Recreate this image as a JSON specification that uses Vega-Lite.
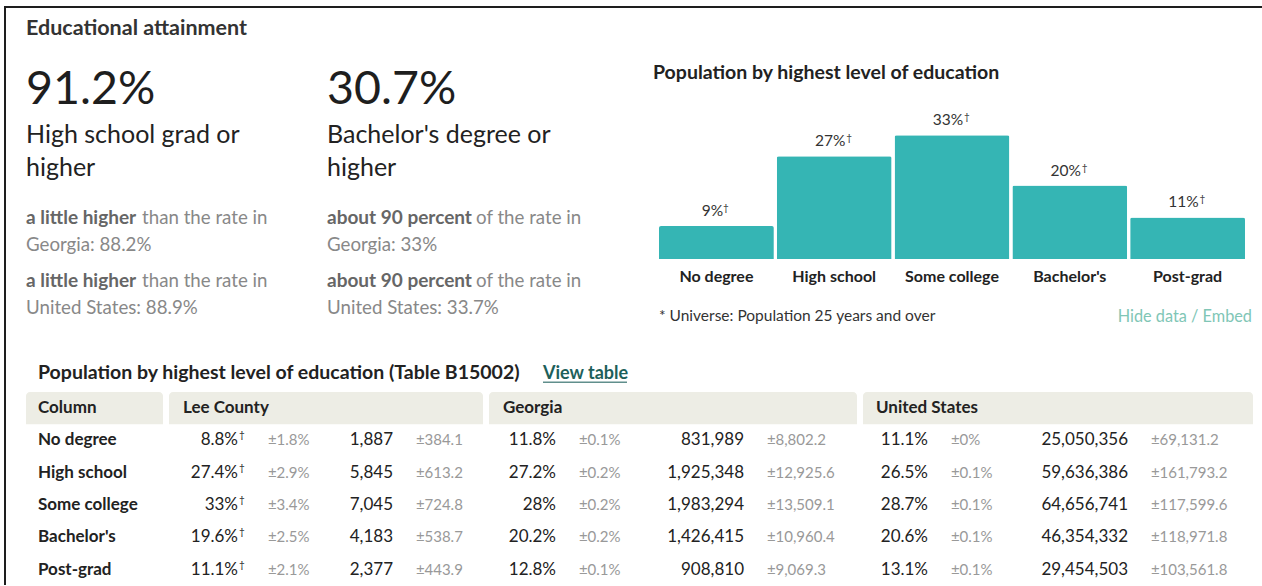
{
  "$schema": "https://vega.github.io/schema/vega-lite/v6.json",
  "background": "white",
  "padding": {"left": 4, "top": 6, "right": 0, "bottom": 0},
  "config": {"font": "Lato", "view": {"stroke": null}},
  "datasets": {
    "stats": [
      {"block": "hs", "value": 0.912, "label": "High school grad or\nhigher", "cmp_state": "a little higher", "cmp_us": "a little higher", "rest": "than the rate in", "state_line": "Georgia: 88.2%", "us_line": "United States: 88.9%"},
      {"block": "ba", "value": 0.307, "label": "Bachelor's degree or\nhigher", "cmp_state": "about 90 percent", "cmp_us": "about 90 percent", "rest": "of the rate in", "state_line": "Georgia: 33%", "us_line": "United States: 33.7%"}
    ],
    "headers": [{"geo": "Column"}, {"geo": "Lee County"}, {"geo": "Georgia"}, {"geo": "United States"}],
    "tabletitle": [{"item": "title", "text": "Population by highest level of education (Table B15002)"}, {"item": "link", "text": "View table"}],
    "notes": [
      {"side": "left", "text": "* Universe: Population 25 years and over"},
      {"side": "right", "text": "Hide data / Embed"}
    ],
    "table": [
      {"geo": "Lee County", "level": "No degree", "measure": "pct", "value": 0.088, "moe": 0.018, "flag": true},
      {"geo": "Lee County", "level": "No degree", "measure": "count", "value": 1887, "moe": 384.1, "flag": false},
      {"geo": "Lee County", "level": "High school", "measure": "pct", "value": 0.274, "moe": 0.029, "flag": true},
      {"geo": "Lee County", "level": "High school", "measure": "count", "value": 5845, "moe": 613.2, "flag": false},
      {"geo": "Lee County", "level": "Some college", "measure": "pct", "value": 0.33, "moe": 0.034, "flag": true},
      {"geo": "Lee County", "level": "Some college", "measure": "count", "value": 7045, "moe": 724.8, "flag": false},
      {"geo": "Lee County", "level": "Bachelor's", "measure": "pct", "value": 0.196, "moe": 0.025, "flag": true},
      {"geo": "Lee County", "level": "Bachelor's", "measure": "count", "value": 4183, "moe": 538.7, "flag": false},
      {"geo": "Lee County", "level": "Post-grad", "measure": "pct", "value": 0.111, "moe": 0.021, "flag": true},
      {"geo": "Lee County", "level": "Post-grad", "measure": "count", "value": 2377, "moe": 443.9, "flag": false},
      {"geo": "Georgia", "level": "No degree", "measure": "pct", "value": 0.118, "moe": 0.001, "flag": false},
      {"geo": "Georgia", "level": "No degree", "measure": "count", "value": 831989, "moe": 8802.2, "flag": false},
      {"geo": "Georgia", "level": "High school", "measure": "pct", "value": 0.272, "moe": 0.002, "flag": false},
      {"geo": "Georgia", "level": "High school", "measure": "count", "value": 1925348, "moe": 12925.6, "flag": false},
      {"geo": "Georgia", "level": "Some college", "measure": "pct", "value": 0.28, "moe": 0.002, "flag": false},
      {"geo": "Georgia", "level": "Some college", "measure": "count", "value": 1983294, "moe": 13509.1, "flag": false},
      {"geo": "Georgia", "level": "Bachelor's", "measure": "pct", "value": 0.202, "moe": 0.002, "flag": false},
      {"geo": "Georgia", "level": "Bachelor's", "measure": "count", "value": 1426415, "moe": 10960.4, "flag": false},
      {"geo": "Georgia", "level": "Post-grad", "measure": "pct", "value": 0.128, "moe": 0.001, "flag": false},
      {"geo": "Georgia", "level": "Post-grad", "measure": "count", "value": 908810, "moe": 9069.3, "flag": false},
      {"geo": "United States", "level": "No degree", "measure": "pct", "value": 0.111, "moe": 0, "flag": false},
      {"geo": "United States", "level": "No degree", "measure": "count", "value": 25050356, "moe": 69131.2, "flag": false},
      {"geo": "United States", "level": "High school", "measure": "pct", "value": 0.265, "moe": 0.001, "flag": false},
      {"geo": "United States", "level": "High school", "measure": "count", "value": 59636386, "moe": 161793.2, "flag": false},
      {"geo": "United States", "level": "Some college", "measure": "pct", "value": 0.287, "moe": 0.001, "flag": false},
      {"geo": "United States", "level": "Some college", "measure": "count", "value": 64656741, "moe": 117599.6, "flag": false},
      {"geo": "United States", "level": "Bachelor's", "measure": "pct", "value": 0.206, "moe": 0.001, "flag": false},
      {"geo": "United States", "level": "Bachelor's", "measure": "count", "value": 46354332, "moe": 118971.8, "flag": false},
      {"geo": "United States", "level": "Post-grad", "measure": "pct", "value": 0.131, "moe": 0.001, "flag": false},
      {"geo": "United States", "level": "Post-grad", "measure": "count", "value": 29454503, "moe": 103561.8, "flag": false}
    ]
  },
  "spacing": 0,
  "bounds": "flush",
  "vconcat": [
    {"width": 1258, "height": 2, "data": {"values": [{"edge": "top"}]}, "mark": {"type": "rect", "color": "#1e1e1e"}, "encoding": {}},
    {"spacing": 20, "bounds": "flush", "hconcat": [
      {"width": 2, "height": 577, "data": {"values": [{"edge": "left"}]}, "mark": {"type": "rect", "color": "#1e1e1e"}, "encoding": {}},
      {"spacing": 14.7, "bounds": "full", "vconcat": [
        {"spacing": 0, "bounds": "flush", "vconcat": [
          {"width": 600, "height": 54, "data": {"values": [{"title": "Educational attainment"}]},
           "mark": {"type": "text", "align": "left", "baseline": "alphabetic", "fontSize": 21.5, "fontWeight": "bold", "color": "#333333"},
           "encoding": {"x": {"field": "title", "type": "nominal", "scale": {"range": [0, 0]}, "axis": null}, "text": {"field": "title"}}},
          {"spacing": 332, "bounds": "flush", "hconcat": [
            {"width": 301, "height": 256, "data": {"name": "stats"},
             "encoding": {"x": {"field": "block", "type": "nominal", "scale": {"domain": ["hs", "ba"], "padding": 0}, "axis": null}},
             "layer": [
               {"mark": {"type": "text", "align": "left", "baseline": "alphabetic", "fontSize": 46.5, "color": "#1e1e1e", "dy": -86}, "encoding": {"text": {"field": "value", "format": ".1%"}}},
               {"mark": {"type": "text", "align": "left", "baseline": "alphabetic", "fontSize": 25, "color": "#222222", "dy": -47, "lineBreak": "\n", "lineHeight": 33}, "encoding": {"text": {"field": "label"}}},
               {"mark": {"type": "text", "align": "left", "baseline": "alphabetic", "fontSize": 19, "fontWeight": "bold", "color": "#666666", "dy": 34}, "encoding": {"text": {"field": "cmp_state"}}},
               {"transform": [{"filter": "datum.block == 'hs'"}], "mark": {"type": "text", "align": "left", "baseline": "alphabetic", "fontSize": 18.7, "color": "#888888", "dx": 116, "dy": 34}, "encoding": {"text": {"field": "rest"}}},
               {"transform": [{"filter": "datum.block == 'ba'"}], "mark": {"type": "text", "align": "left", "baseline": "alphabetic", "fontSize": 18.7, "color": "#888888", "dx": 149, "dy": 34}, "encoding": {"text": {"field": "rest"}}},
               {"mark": {"type": "text", "align": "left", "baseline": "alphabetic", "fontSize": 18.7, "color": "#888888", "dy": 61}, "encoding": {"text": {"field": "state_line"}}},
               {"mark": {"type": "text", "align": "left", "baseline": "alphabetic", "fontSize": 19, "fontWeight": "bold", "color": "#666666", "dy": 97}, "encoding": {"text": {"field": "cmp_us"}}},
               {"transform": [{"filter": "datum.block == 'hs'"}], "mark": {"type": "text", "align": "left", "baseline": "alphabetic", "fontSize": 18.7, "color": "#888888", "dx": 116, "dy": 97}, "encoding": {"text": {"field": "rest"}}},
               {"transform": [{"filter": "datum.block == 'ba'"}], "mark": {"type": "text", "align": "left", "baseline": "alphabetic", "fontSize": 18.7, "color": "#888888", "dx": 149, "dy": 97}, "encoding": {"text": {"field": "rest"}}},
               {"mark": {"type": "text", "align": "left", "baseline": "alphabetic", "fontSize": 18.7, "color": "#888888", "dy": 124}, "encoding": {"text": {"field": "us_line"}}}
             ]},
            {"spacing": 13, "bounds": "flush", "vconcat": [
              {"width": 586, "height": 34, "data": {"values": [{"title": "Population by highest level of education"}]},
               "mark": {"type": "text", "align": "left", "baseline": "alphabetic", "fontSize": 19.5, "fontWeight": "bold", "color": "#222222"},
               "encoding": {"x": {"field": "title", "type": "nominal", "scale": {"range": [-6, -6]}, "axis": null}, "text": {"field": "title"}}},
              {"width": 586, "height": 150, "data": {"name": "table"},
               "transform": [{"filter": "datum.geo == 'Lee County' && datum.measure == 'pct'"}],
               "encoding": {
                 "x": {"field": "level", "type": "nominal", "sort": ["No degree", "High school", "Some college", "Bachelor's", "Post-grad"], "scale": {"paddingInner": 0.025, "paddingOuter": 0},
                       "axis": {"title": null, "domain": false, "ticks": false, "tickSize": 0, "labelPadding": 9, "labelFontSize": 16, "labelFontWeight": "bold", "labelColor": "#222222", "labelAngle": 0, "labelFont": "Lato"}},
                 "y": {"field": "value", "type": "quantitative", "scale": {"domain": [0, 0.4], "nice": false}, "axis": null}
               },
               "layer": [
                 {"mark": {"type": "bar", "color": "#35b5b4", "cornerRadiusTopLeft": 2, "cornerRadiusTopRight": 2}},
                 {"mark": {"type": "text", "align": "center", "baseline": "alphabetic", "dx": -4, "dy": -10, "fontSize": 15.5, "color": "#333333"}, "encoding": {"text": {"field": "value", "format": ".0%"}}},
                 {"transform": [{"filter": "datum.value < 0.095"}], "mark": {"type": "text", "align": "left", "baseline": "alphabetic", "dx": 6.5, "dy": -15, "fontSize": 10, "color": "#333333"}, "encoding": {"text": {"value": "†"}}},
                 {"transform": [{"filter": "datum.value >= 0.095"}], "mark": {"type": "text", "align": "left", "baseline": "alphabetic", "dx": 12, "dy": -15, "fontSize": 10, "color": "#333333"}, "encoding": {"text": {"value": "†"}}}
               ]},
              {"width": 586, "height": 73, "data": {"name": "notes"},
               "encoding": {"x": {"field": "side", "type": "nominal", "scale": {"domain": ["left", "right"], "range": [0, 593], "padding": 0}, "axis": null}, "text": {"field": "text"}},
               "layer": [
                 {"transform": [{"filter": "datum.side == 'left'"}], "mark": {"type": "text", "align": "left", "baseline": "top", "fontSize": 15.5, "color": "#333333"}},
                 {"transform": [{"filter": "datum.side == 'right'"}], "mark": {"type": "text", "align": "right", "baseline": "top", "fontSize": 16.3, "color": "#80c6b6"}}
               ]}
            ]}
          ]}
        ]},
        {"spacing": 6, "bounds": "flush", "hconcat": [
          {"width": 137, "height": 226.1,
           "layer": [
             {"data": {"name": "headers"}, "transform": [{"filter": "datum.geo == 'Column'"}], "mark": {"type": "rect", "color": "#ededE5", "cornerRadiusTopLeft": 4, "cornerRadiusTopRight": 4},
              "encoding": {"y": {"datum": "header", "type": "nominal", "scale": {"domain": ["title", "header", "No degree", "High school", "Some college", "Bachelor's", "Post-grad"], "paddingInner": 0, "paddingOuter": 0}, "axis": null}}},
             {"data": {"name": "tabletitle"}, "transform": [{"filter": "datum.item == 'title'"}], "mark": {"type": "text", "align": "left", "baseline": "alphabetic", "fontSize": 19.5, "fontWeight": "bold", "color": "#222222", "dy": 3},
              "encoding": {"x": {"datum": "label", "type": "nominal", "scale": {"range": [12, 12]}, "axis": null}, "y": {"datum": "title", "type": "nominal", "axis": null}, "text": {"field": "text"}}},
             {"data": {"name": "headers"}, "transform": [{"filter": "datum.geo == 'Column'"}], "mark": {"type": "text", "align": "left", "baseline": "middle", "fontSize": 17, "fontWeight": "bold", "color": "#222222"},
              "encoding": {"x": {"datum": "label", "type": "nominal", "axis": null}, "y": {"datum": "header", "type": "nominal", "axis": null}, "text": {"field": "geo"}}},
             {"data": {"name": "table"}, "transform": [{"filter": "datum.geo == 'Lee County' && datum.measure == 'pct'"}], "mark": {"type": "text", "align": "left", "baseline": "middle", "fontSize": 17, "fontWeight": "bold", "color": "#222222"},
              "encoding": {"x": {"datum": "label", "type": "nominal", "axis": null}, "y": {"field": "level", "type": "nominal", "axis": null}, "text": {"field": "level"}}}
           ]},
          {"width": 314, "height": 226.1, "data": {"name": "table"},
           "resolve": {"scale": {"x": "independent"}},
           "layer": [
             {"data": {"name": "headers"}, "transform": [{"filter": "datum.geo == 'Lee County'"}], "mark": {"type": "rect", "color": "#ededE5", "cornerRadiusTopLeft": 4, "cornerRadiusTopRight": 4},
              "encoding": {"y": {"datum": "header", "type": "nominal", "scale": {"domain": ["title", "header", "No degree", "High school", "Some college", "Bachelor's", "Post-grad"], "paddingInner": 0, "paddingOuter": 0}, "axis": null}}},
             {"data": {"name": "headers"}, "transform": [{"filter": "datum.geo == 'Lee County'"}], "mark": {"type": "text", "align": "left", "baseline": "middle", "fontSize": 17, "fontWeight": "bold", "color": "#222222"},
              "encoding": {"x": {"datum": "head", "type": "nominal", "scale": {"range": [14, 14]}, "axis": null}, "y": {"datum": "header", "type": "nominal", "axis": null}, "text": {"field": "geo"}}},
             {"transform": [{"filter": "datum.geo == 'Lee County' && datum.measure == 'pct' && datum.flag"}], "mark": {"type": "text", "align": "right", "baseline": "middle", "fontSize": 17, "color": "#222222", "dx": -30},
              "encoding": {"x": {"field": "measure", "type": "nominal", "scale": {"domain": ["pct", "count"], "range": [99, 247], "padding": 0}, "axis": null}, "y": {"field": "level", "type": "nominal", "axis": null}, "text": {"field": "value", "format": ".1~%"}}},
             {"transform": [{"filter": "datum.geo == 'Lee County' && datum.flag"}], "mark": {"type": "text", "align": "left", "baseline": "middle", "fontSize": 10, "color": "#222222", "dx": -29, "dy": -5},
              "encoding": {"x": {"field": "measure", "type": "nominal", "scale": {"domain": ["pct", "count"], "range": [99, 247], "padding": 0}, "axis": null}, "y": {"field": "level", "type": "nominal", "axis": null}, "text": {"value": "†"}}},
             {"transform": [{"filter": "datum.geo == 'Lee County' && datum.measure == 'count'"}], "mark": {"type": "text", "align": "right", "baseline": "middle", "fontSize": 17, "color": "#222222", "dx": -23},
              "encoding": {"x": {"field": "measure", "type": "nominal", "scale": {"domain": ["pct", "count"], "range": [99, 247], "padding": 0}, "axis": null}, "y": {"field": "level", "type": "nominal", "axis": null}, "text": {"field": "value", "format": ","}}},
             {"transform": [{"filter": "datum.geo == 'Lee County'"}], "mark": {"type": "text", "align": "left", "baseline": "middle", "fontSize": 15, "color": "#999999"},
              "encoding": {"x": {"field": "measure", "type": "nominal", "scale": {"domain": ["pct", "count"], "range": [99, 247], "padding": 0}, "axis": null}, "y": {"field": "level", "type": "nominal", "axis": null}, "text": {"value": "±"}}},
             {"transform": [{"filter": "datum.geo == 'Lee County' && datum.measure == 'pct'"}], "mark": {"type": "text", "align": "left", "baseline": "middle", "fontSize": 15, "color": "#999999", "dx": 8.5},
              "encoding": {"x": {"field": "measure", "type": "nominal", "scale": {"domain": ["pct", "count"], "range": [99, 247], "padding": 0}, "axis": null}, "y": {"field": "level", "type": "nominal", "axis": null}, "text": {"field": "moe", "format": ".1~%"}}},
             {"transform": [{"filter": "datum.geo == 'Lee County' && datum.measure == 'count'"}], "mark": {"type": "text", "align": "left", "baseline": "middle", "fontSize": 15, "color": "#999999", "dx": 8.5},
              "encoding": {"x": {"field": "measure", "type": "nominal", "scale": {"domain": ["pct", "count"], "range": [99, 247], "padding": 0}, "axis": null}, "y": {"field": "level", "type": "nominal", "axis": null}, "text": {"field": "moe", "format": ",.1f"}}}
           ]},
          {"width": 368, "height": 226.1, "data": {"name": "table"},
           "resolve": {"scale": {"x": "independent"}},
           "layer": [
             {"data": {"name": "headers"}, "transform": [{"filter": "datum.geo == 'Georgia'"}], "mark": {"type": "rect", "color": "#ededE5", "cornerRadiusTopLeft": 4, "cornerRadiusTopRight": 4},
              "encoding": {"y": {"datum": "header", "type": "nominal", "scale": {"domain": ["title", "header", "No degree", "High school", "Some college", "Bachelor's", "Post-grad"], "paddingInner": 0, "paddingOuter": 0}, "axis": null}}},
             {"data": {"name": "tabletitle"}, "transform": [{"filter": "datum.item == 'link'"}], "mark": {"type": "text", "align": "left", "baseline": "alphabetic", "fontSize": 18, "fontWeight": "bold", "color": "#1d5f5b", "dy": 3},
              "encoding": {"x": {"datum": "link", "type": "nominal", "scale": {"range": [54, 54]}, "axis": null}, "y": {"datum": "title", "type": "nominal", "axis": null}, "text": {"field": "text"}}},
             {"data": {"name": "tabletitle"}, "transform": [{"filter": "datum.item == 'link'"}], "mark": {"type": "tick", "orient": "horizontal", "color": "#1d5f5b", "thickness": 1.5},
              "encoding": {"x": {"datum": "underline", "type": "nominal", "scale": {"range": [96, 96]}, "axis": null}, "y": {"datum": "title", "type": "nominal", "bandPosition": 0.7, "axis": null}, "size": {"value": 84}}},
             {"data": {"name": "headers"}, "transform": [{"filter": "datum.geo == 'Georgia'"}], "mark": {"type": "text", "align": "left", "baseline": "middle", "fontSize": 17, "fontWeight": "bold", "color": "#222222"},
              "encoding": {"x": {"datum": "head", "type": "nominal", "scale": {"range": [14, 14]}, "axis": null}, "y": {"datum": "header", "type": "nominal", "axis": null}, "text": {"field": "geo"}}},
             {"transform": [{"filter": "datum.geo == 'Georgia' && datum.measure == 'pct'"}], "mark": {"type": "text", "align": "right", "baseline": "middle", "fontSize": 17, "color": "#222222", "dx": -23},
              "encoding": {"x": {"field": "measure", "type": "nominal", "scale": {"domain": ["pct", "count"], "range": [90, 278], "padding": 0}, "axis": null}, "y": {"field": "level", "type": "nominal", "axis": null}, "text": {"field": "value", "format": ".1~%"}}},
             {"transform": [{"filter": "datum.geo == 'Georgia' && datum.measure == 'count'"}], "mark": {"type": "text", "align": "right", "baseline": "middle", "fontSize": 17, "color": "#222222", "dx": -23},
              "encoding": {"x": {"field": "measure", "type": "nominal", "scale": {"domain": ["pct", "count"], "range": [90, 278], "padding": 0}, "axis": null}, "y": {"field": "level", "type": "nominal", "axis": null}, "text": {"field": "value", "format": ","}}},
             {"transform": [{"filter": "datum.geo == 'Georgia'"}], "mark": {"type": "text", "align": "left", "baseline": "middle", "fontSize": 15, "color": "#999999"},
              "encoding": {"x": {"field": "measure", "type": "nominal", "scale": {"domain": ["pct", "count"], "range": [90, 278], "padding": 0}, "axis": null}, "y": {"field": "level", "type": "nominal", "axis": null}, "text": {"value": "±"}}},
             {"transform": [{"filter": "datum.geo == 'Georgia' && datum.measure == 'pct'"}], "mark": {"type": "text", "align": "left", "baseline": "middle", "fontSize": 15, "color": "#999999", "dx": 8.5},
              "encoding": {"x": {"field": "measure", "type": "nominal", "scale": {"domain": ["pct", "count"], "range": [90, 278], "padding": 0}, "axis": null}, "y": {"field": "level", "type": "nominal", "axis": null}, "text": {"field": "moe", "format": ".1~%"}}},
             {"transform": [{"filter": "datum.geo == 'Georgia' && datum.measure == 'count'"}], "mark": {"type": "text", "align": "left", "baseline": "middle", "fontSize": 15, "color": "#999999", "dx": 8.5},
              "encoding": {"x": {"field": "measure", "type": "nominal", "scale": {"domain": ["pct", "count"], "range": [90, 278], "padding": 0}, "axis": null}, "y": {"field": "level", "type": "nominal", "axis": null}, "text": {"field": "moe", "format": ",.1f"}}}
           ]},
          {"width": 390, "height": 226.1, "data": {"name": "table"},
           "resolve": {"scale": {"x": "independent"}},
           "layer": [
             {"data": {"name": "headers"}, "transform": [{"filter": "datum.geo == 'United States'"}], "mark": {"type": "rect", "color": "#ededE5", "cornerRadiusTopLeft": 4, "cornerRadiusTopRight": 4},
              "encoding": {"y": {"datum": "header", "type": "nominal", "scale": {"domain": ["title", "header", "No degree", "High school", "Some college", "Bachelor's", "Post-grad"], "paddingInner": 0, "paddingOuter": 0}, "axis": null}}},
             {"data": {"name": "headers"}, "transform": [{"filter": "datum.geo == 'United States'"}], "mark": {"type": "text", "align": "left", "baseline": "middle", "fontSize": 17, "fontWeight": "bold", "color": "#222222"},
              "encoding": {"x": {"datum": "head", "type": "nominal", "scale": {"range": [13, 13]}, "axis": null}, "y": {"datum": "header", "type": "nominal", "axis": null}, "text": {"field": "geo"}}},
             {"transform": [{"filter": "datum.geo == 'United States' && datum.measure == 'pct'"}], "mark": {"type": "text", "align": "right", "baseline": "middle", "fontSize": 17, "color": "#222222", "dx": -23},
              "encoding": {"x": {"field": "measure", "type": "nominal", "scale": {"domain": ["pct", "count"], "range": [88, 288], "padding": 0}, "axis": null}, "y": {"field": "level", "type": "nominal", "axis": null}, "text": {"field": "value", "format": ".1~%"}}},
             {"transform": [{"filter": "datum.geo == 'United States' && datum.measure == 'count'"}], "mark": {"type": "text", "align": "right", "baseline": "middle", "fontSize": 17, "color": "#222222", "dx": -23},
              "encoding": {"x": {"field": "measure", "type": "nominal", "scale": {"domain": ["pct", "count"], "range": [88, 288], "padding": 0}, "axis": null}, "y": {"field": "level", "type": "nominal", "axis": null}, "text": {"field": "value", "format": ","}}},
             {"transform": [{"filter": "datum.geo == 'United States'"}], "mark": {"type": "text", "align": "left", "baseline": "middle", "fontSize": 15, "color": "#999999"},
              "encoding": {"x": {"field": "measure", "type": "nominal", "scale": {"domain": ["pct", "count"], "range": [88, 288], "padding": 0}, "axis": null}, "y": {"field": "level", "type": "nominal", "axis": null}, "text": {"value": "±"}}},
             {"transform": [{"filter": "datum.geo == 'United States' && datum.measure == 'pct'"}], "mark": {"type": "text", "align": "left", "baseline": "middle", "fontSize": 15, "color": "#999999", "dx": 8.5},
              "encoding": {"x": {"field": "measure", "type": "nominal", "scale": {"domain": ["pct", "count"], "range": [88, 288], "padding": 0}, "axis": null}, "y": {"field": "level", "type": "nominal", "axis": null}, "text": {"field": "moe", "format": ".1~%"}}},
             {"transform": [{"filter": "datum.geo == 'United States' && datum.measure == 'count'"}], "mark": {"type": "text", "align": "left", "baseline": "middle", "fontSize": 15, "color": "#999999", "dx": 8.5},
              "encoding": {"x": {"field": "measure", "type": "nominal", "scale": {"domain": ["pct", "count"], "range": [88, 288], "padding": 0}, "axis": null}, "y": {"field": "level", "type": "nominal", "axis": null}, "text": {"field": "moe", "format": ",.1f"}}}
           ]}
        ]}
      ]}
    ]}
  ]
}
